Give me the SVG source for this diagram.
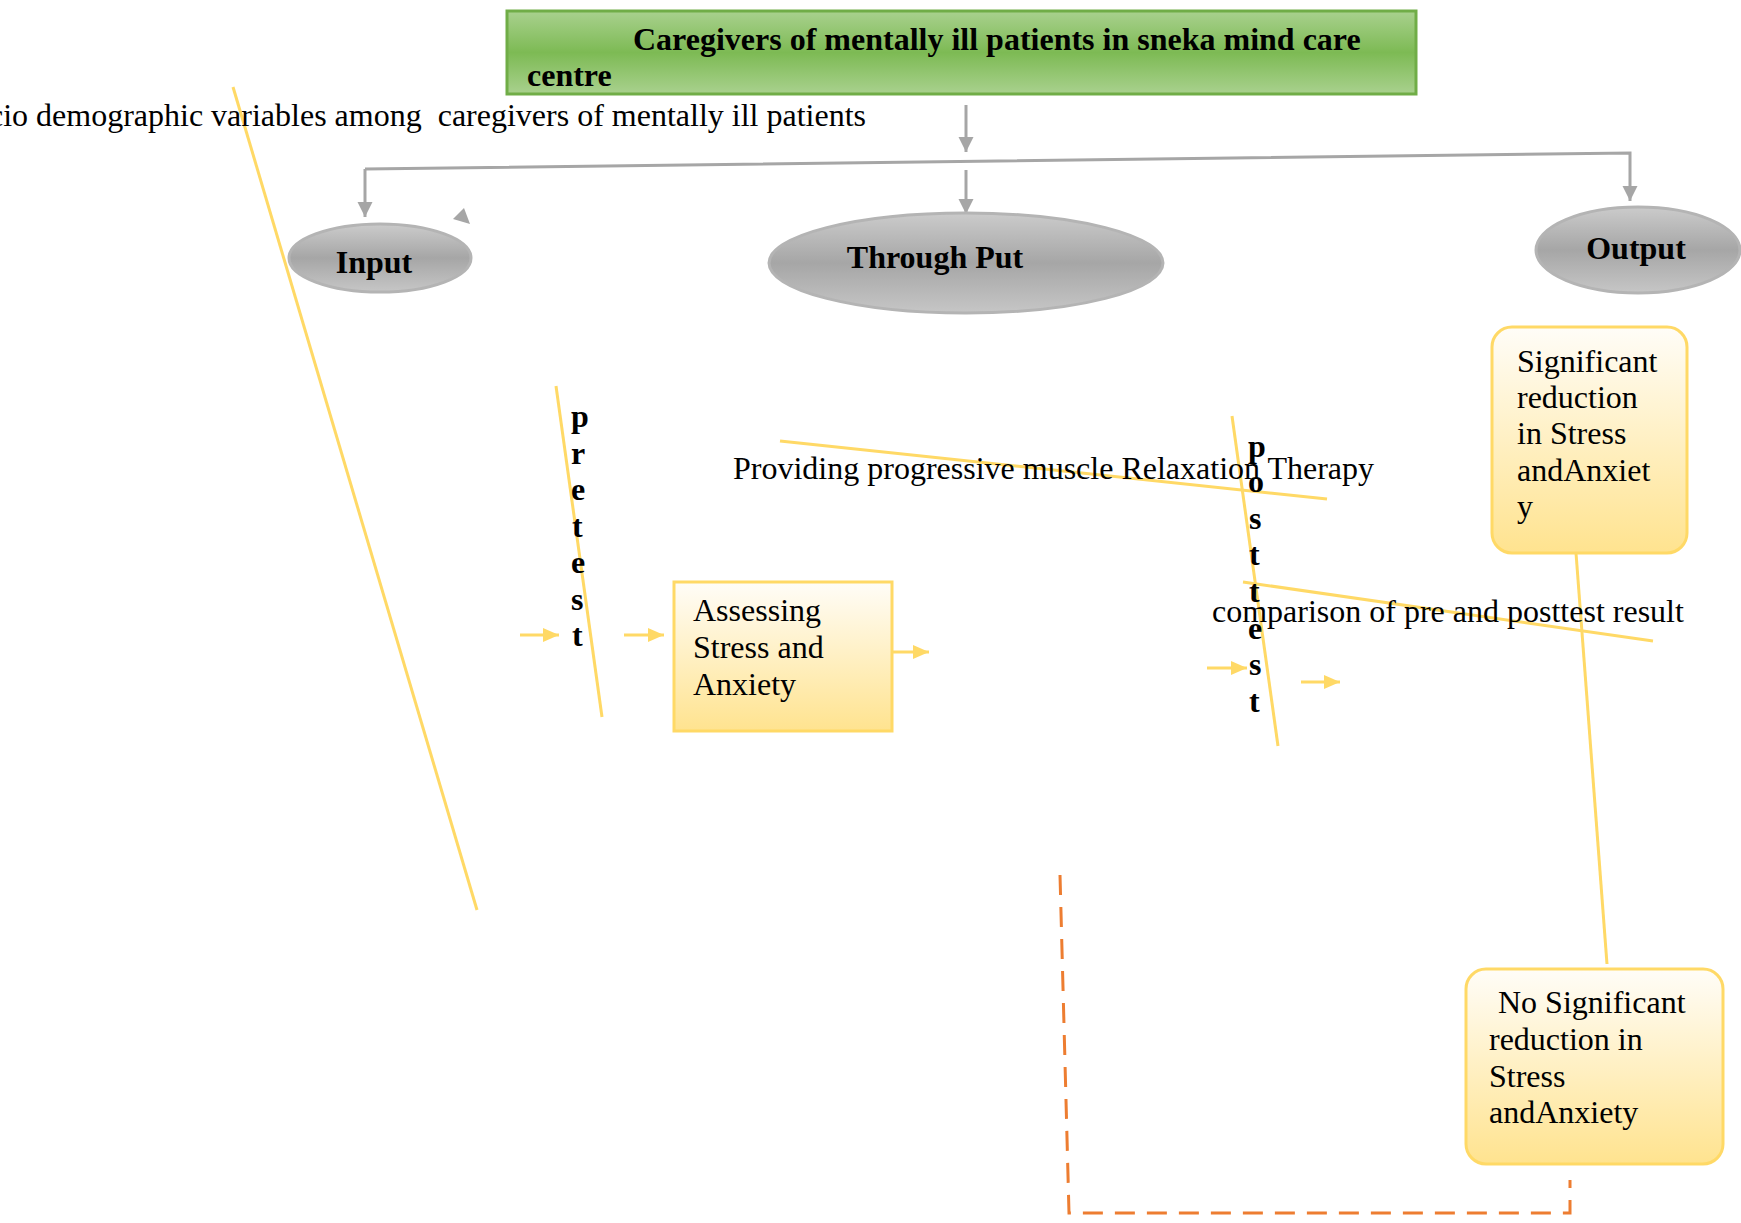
<svg xmlns="http://www.w3.org/2000/svg" width="1741" height="1223" viewBox="0 0 1741 1223">
<style>
text{font-family:"Liberation Serif","Times New Roman",serif;font-size:32px;fill:#000}
.b{font-weight:bold}
.gray{fill:none;stroke:#a6a6a6;stroke-width:3}
.yl{fill:none;stroke:#ffd966;stroke-width:3}
.ya{fill:none;stroke:#ffd966;stroke-width:3}
.ell{fill:url(#gg);stroke:#b4b4b4;stroke-width:3}
.ybox{fill:url(#yg);stroke:#ffd966;stroke-width:3}
</style>
<defs>
<linearGradient id="greenG" x1="0" y1="0" x2="0" y2="1">
<stop offset="0" stop-color="#a9d18e"/><stop offset="0.5" stop-color="#7dba54"/><stop offset="1" stop-color="#a9d18e"/>
</linearGradient>
<linearGradient id="gg" x1="0" y1="0" x2="0" y2="1">
<stop offset="0" stop-color="#cbcbcb"/><stop offset="0.5" stop-color="#a6a6a6"/><stop offset="1" stop-color="#c6c6c6"/>
</linearGradient>
<linearGradient id="yg" x1="0" y1="0" x2="0" y2="1">
<stop offset="0" stop-color="#fffdf8"/><stop offset="1" stop-color="#ffe38f"/>
</linearGradient>
<marker id="ga" markerUnits="userSpaceOnUse" markerWidth="16" markerHeight="16" refX="15" refY="8" orient="auto">
<path d="M0,0.5 L15,8 L0,15.5 z" fill="#a6a6a6"/>
</marker>
<marker id="ya" markerUnits="userSpaceOnUse" markerWidth="17" markerHeight="15" refX="16" refY="7" orient="auto">
<path d="M0,0 L16,7 L0,14 z" fill="#ffd966"/>
</marker>
</defs>

<g id="connectors">
<path class="gray" d="M966,105 L966,152" marker-end="url(#ga)"/>
<path class="gray" d="M365,169 L365,217" marker-end="url(#ga)"/>
<path class="gray" d="M365,169 L1630,153 L1630,201" marker-end="url(#ga)"/>
<path class="gray" d="M966,170 L966,214" marker-end="url(#ga)"/>
<polygon points="464,208 453,219 470,224" fill="#a6a6a6"/>
<line class="yl" x1="233" y1="87" x2="477" y2="910"/>
<line class="yl" x1="556" y1="386" x2="602" y2="717"/>
<line class="yl" x1="780" y1="441" x2="1327" y2="499"/>
<line class="yl" x1="1232" y1="416" x2="1278" y2="746"/>
<line class="yl" x1="1243" y1="582" x2="1653" y2="641"/>
<line class="yl" x1="1576" y1="553" x2="1607" y2="964"/>
<line class="ya" x1="520" y1="635" x2="559" y2="635" marker-end="url(#ya)"/>
<line class="ya" x1="624" y1="635" x2="664" y2="635" marker-end="url(#ya)"/>
<line class="ya" x1="892" y1="652" x2="929" y2="652" marker-end="url(#ya)"/>
<line class="ya" x1="1207" y1="668" x2="1247" y2="668" marker-end="url(#ya)"/>
<line class="ya" x1="1301" y1="682" x2="1340" y2="682" marker-end="url(#ya)"/>
<path d="M1060,875 L1069,1213 L1570,1213 L1570,1180" fill="none" stroke="#ed7d31" stroke-width="3" stroke-dasharray="20 12"/>
</g>

<g id="title">
<rect x="507" y="11" width="909" height="83" fill="url(#greenG)" stroke="#70ad47" stroke-width="3"/>
<text class="b" x="633" y="50">Caregivers of mentally ill patients in sneka mind care</text>
<text class="b" x="527" y="86">centre</text>
</g>

<g id="socio-label">
<text x="866" y="126" text-anchor="end" xml:space="preserve">cio demographic variables among  caregivers of mentally ill patients</text>
</g>

<g id="input">
<ellipse class="ell" cx="380" cy="258" rx="91" ry="34"/>
<text class="b" x="374" y="273" text-anchor="middle">Input</text>
</g>

<g id="throughput">
<ellipse class="ell" cx="966" cy="263" rx="197" ry="50"/>
<text class="b" x="935" y="268" text-anchor="middle">Through Put</text>
</g>

<g id="output">
<ellipse class="ell" cx="1638" cy="250" rx="102" ry="43"/>
<text class="b" x="1636" y="259" text-anchor="middle">Output</text>
</g>

<g id="pretest">
<text class="b" x="571" y="427">p</text>
<text class="b" x="571" y="463.5">r</text>
<text class="b" x="571" y="500">e</text>
<text class="b" x="572" y="536.5">t</text>
<text class="b" x="571" y="573">e</text>
<text class="b" x="571" y="609.5">s</text>
<text class="b" x="572" y="646">t</text>
</g>

<g id="assessing">
<rect class="ybox" x="674" y="582" width="218" height="149"/>
<text x="693" y="621">Assessing</text>
<text x="693" y="658">Stress and</text>
<text x="693" y="695">Anxiety</text>
</g>

<g id="therapy">
<text x="733" y="479">Providing progressive muscle Relaxation Therapy</text>
</g>

<g id="posttest">
<text class="b" x="1248" y="457">p</text>
<text class="b" x="1248" y="492">o</text>
<text class="b" x="1249" y="528.5">s</text>
<text class="b" x="1249" y="565">t</text>
<text class="b" x="1249" y="602">t</text>
<text class="b" x="1248" y="638.5">e</text>
<text class="b" x="1249" y="675">s</text>
<text class="b" x="1249" y="712">t</text>
</g>

<g id="comparison">
<text x="1212" y="622">comparison of pre and posttest result</text>
</g>

<g id="significant">
<rect class="ybox" x="1492" y="327" width="195" height="226" rx="20" ry="20"/>
<text x="1517" y="372">Significant</text>
<text x="1517" y="408">reduction</text>
<text x="1517" y="444">in Stress</text>
<text x="1517" y="481">andAnxiet</text>
<text x="1517" y="517">y</text>
</g>

<g id="no-significant">
<rect class="ybox" x="1466" y="969" width="257" height="195" rx="20" ry="20"/>
<text x="1498" y="1013">No Significant</text>
<text x="1489" y="1050">reduction in</text>
<text x="1489" y="1087">Stress</text>
<text x="1489" y="1123">andAnxiety</text>
</g>
</svg>
